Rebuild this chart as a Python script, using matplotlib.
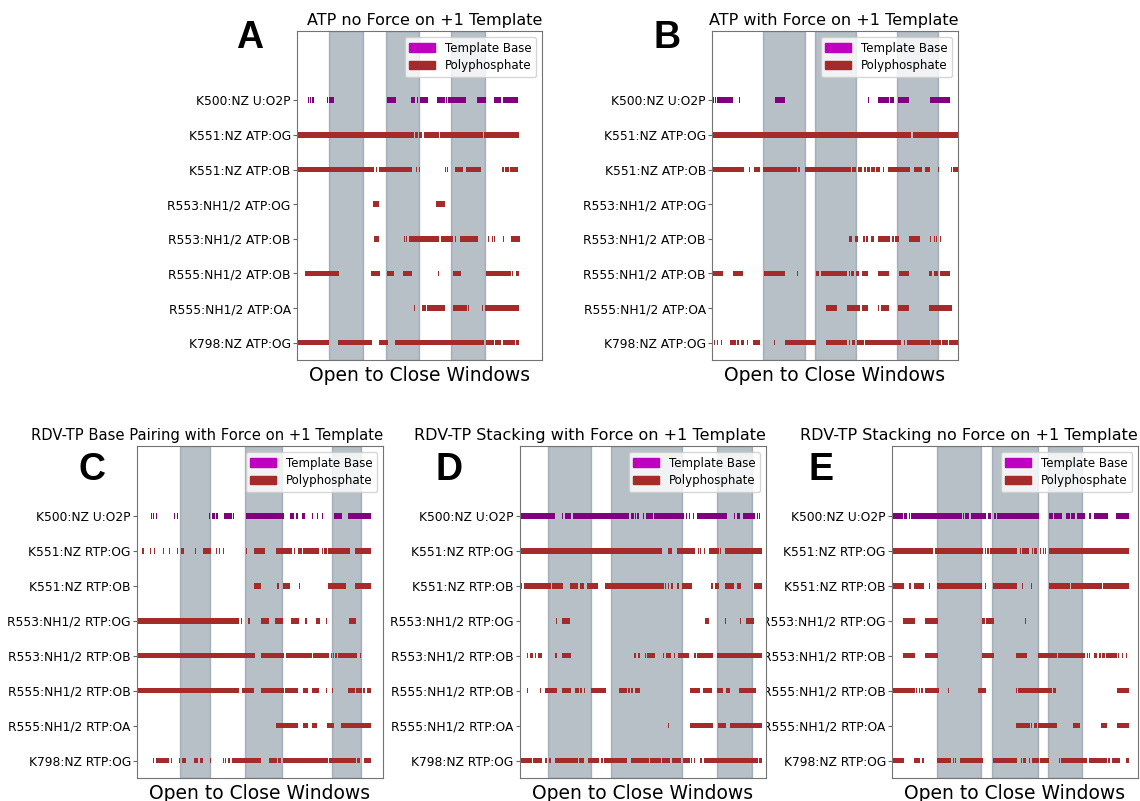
import matplotlib.pyplot as plt
from matplotlib.patches import Patch

# x values are frame positions (arbitrary units per panel)
labels_atp = ['K500:NZ U:O2P', 'K551:NZ ATP:OG', 'K551:NZ ATP:OB', 'R553:NH1/2 ATP:OG',
              'R553:NH1/2 ATP:OB', 'R555:NH1/2 ATP:OB', 'R555:NH1/2 ATP:OA', 'K798:NZ ATP:OG']
labels_rtp = ['K500:NZ U:O2P', 'K551:NZ RTP:OG', 'K551:NZ RTP:OB', 'R553:NH1/2 RTP:OG',
              'R553:NH1/2 RTP:OB', 'R555:NH1/2 RTP:OB', 'R555:NH1/2 RTP:OA', 'K798:NZ RTP:OG']

titles = ['ATP no Force on +1 Template', 'ATP with Force on +1 Template',
          'RDV-TP Base Pairing with Force on +1 Template',
          'RDV-TP Stacking with Force on +1 Template',
          'RDV-TP Stacking no Force on +1 Template']
title_sizes = [11.5, 11.5, 10.6, 11.5, 11.5]
letters = ['A', 'B', 'C', 'D', 'E']

xlims = [(6, 745), (8, 745), (6, 744), (7, 744), (8, 744)]

a_bands = [(103, 204), (276, 375), (471, 572)]
b_bands = [(161, 287), (315, 440), (561, 686)]
c_bands = [(135, 224), (330, 440), (591, 679)]
d_bands = [(91, 219), (281, 491), (596, 701)]
e_bands = [(141, 275), (308, 444), (474, 577)]

a_rows = [
    [(38, 41), (45, 48), (52, 56), (96, 99), (104, 117), (278, 304), (350, 362), (368, 371),
     (378, 402), (427, 452), (456, 460), (462, 516), (550, 577), (600, 622), (627, 674)],
    [(6, 360), (363, 372), (374, 384), (388, 433), (437, 566), (569, 620), (622, 677)],
    [(6, 238), (244, 246), (252, 354), (366, 369), (374, 378), (453, 456), (459, 462), (464, 466),
     (482, 508), (516, 560), (625, 630), (633, 645), (648, 674)],
    [(234, 254), (426, 453)],
    [(237, 254), (329, 332), (335, 338), (345, 435), (440, 478), (483, 485), (497, 552), (583, 585),
     (594, 597), (600, 603), (614, 616), (627, 629), (651, 678)],
    [(30, 132), (228, 255), (279, 300), (327, 352), (418, 420), (431, 434), (476, 501), (576, 652),
     (655, 658), (668, 677)],
    [(358, 361), (384, 395), (399, 453), (476, 518), (522, 524), (564, 567), (574, 677)],
    [(6, 104), (129, 232), (254, 280), (302, 570), (576, 600), (603, 622), (626, 664), (667, 677)],
]

b_rows = [
    [(10, 14), (17, 20), (24, 70), (90, 93), (196, 226), (387, 389), (408, 410), (475, 477),
     (480, 482), (505, 537), (540, 553), (566, 598), (662, 722)],
    [(8, 603), (611, 745)],
    [(8, 104), (120, 122), (133, 152), (160, 262), (265, 270), (287, 425), (428, 440), (444, 457),
     (462, 470), (472, 480), (483, 495), (500, 510), (520, 522), (534, 600), (614, 637), (645, 662),
     (684, 688), (724, 727), (730, 745)],
    [],
    [(393, 395), (418, 428), (436, 446), (459, 465), (470, 476), (483, 493), (505, 540), (547, 552),
     (557, 568), (597, 630), (661, 664), (672, 675), (680, 683), (690, 693)],
    [(8, 40), (70, 102), (163, 227), (262, 265), (318, 328), (333, 413), (418, 421), (425, 434),
     (438, 447), (457, 475), (506, 537), (567, 597), (659, 667), (672, 686), (690, 722)],
    [(350, 381), (411, 450), (457, 474), (504, 507), (515, 537), (566, 598), (659, 728)],
    [(14, 17), (22, 25), (34, 37), (63, 80), (83, 90), (94, 103), (114, 117), (132, 152), (195, 198),
     (226, 320), (349, 413), (418, 420), (426, 436), (442, 462), (465, 573), (583, 586), (592, 660),
     (663, 693), (697, 714), (717, 745)],
]

c_rows = [
    [(48, 50), (54, 56), (62, 65), (118, 121), (125, 128), (223, 226), (230, 240), (243, 248),
     (268, 290), (294, 297), (333, 446), (466, 478), (483, 488), (502, 510), (530, 534), (545, 548),
     (561, 564), (597, 620), (638, 708)],
    [(22, 26), (46, 49), (56, 60), (85, 87), (103, 106), (126, 129), (139, 146), (181, 184),
     (204, 227), (244, 246), (252, 256), (264, 268), (332, 335), (357, 390), (422, 470), (478, 481),
     (490, 500), (503, 553), (560, 565), (568, 575), (578, 645), (661, 708)],
    [(356, 378), (425, 432), (444, 466), (492, 494), (579, 634), (661, 708)],
    [(6, 312), (317, 320), (340, 345), (377, 401), (421, 445), (468, 491), (509, 516), (543, 554),
     (566, 568), (573, 575), (641, 664)],
    [(6, 360), (378, 446), (452, 532), (535, 582), (588, 590), (594, 598), (601, 605), (609, 665),
     (676, 678)],
    [(6, 312), (322, 357), (378, 446), (451, 490), (505, 520), (532, 553), (574, 577), (590, 593),
     (640, 660), (663, 680), (684, 690), (696, 708)],
    [(422, 490), (504, 520), (531, 547), (575, 598), (618, 708)],
    [(55, 58), (62, 103), (108, 110), (132, 136), (140, 154), (177, 190), (195, 205), (225, 228),
     (263, 266), (271, 274), (278, 284), (291, 378), (402, 425), (430, 438), (445, 580), (583, 590),
     (592, 662), (667, 676), (687, 708)],
]

d_rows = [
    [(10, 113), (133, 136), (141, 160), (165, 335), (340, 350), (352, 356), (359, 364), (375, 380),
     (386, 405), (410, 497), (503, 506), (512, 516), (525, 528), (537, 628), (648, 652), (657, 665),
     (675, 712), (718, 721), (724, 727)],
    [(10, 433), (450, 461), (477, 530), (539, 542), (547, 550), (557, 560), (572, 602), (606, 608),
     (621, 695), (697, 731)],
    [(8, 12), (18, 100), (103, 137), (156, 180), (186, 200), (207, 242), (261, 438), (442, 446),
     (452, 455), (460, 465), (478, 484), (492, 522), (580, 584), (591, 602), (622, 648), (656, 668),
     (708, 731)],
    [(115, 118), (134, 157), (562, 573), (622, 625), (665, 668), (685, 708)],
    [(28, 32), (37, 45), (52, 55), (60, 73), (113, 117), (134, 159), (350, 355), (360, 368),
     (381, 386), (389, 413), (435, 440), (446, 459), (467, 472), (479, 512), (529, 533), (537, 586),
     (598, 732)],
    [(28, 31), (68, 71), (82, 117), (134, 161), (172, 184), (188, 192), (199, 201), (220, 264),
     (304, 329), (332, 336), (340, 345), (351, 367), (516, 546), (556, 581), (596, 614), (624, 637),
     (664, 714)],
    [(450, 455), (516, 584), (600, 625), (636, 731)],
    [(10, 43), (47, 73), (83, 87), (93, 101), (112, 180), (185, 200), (212, 244), (249, 256),
     (260, 328), (340, 394), (398, 430), (434, 458), (463, 488), (495, 515), (520, 522), (528, 532),
     (545, 552), (559, 720), (724, 731)],
]

e_rows = [
    [(8, 42), (45, 53), (58, 62), (66, 216), (221, 223), (226, 238), (245, 290), (294, 305),
     (312, 318), (322, 447), (479, 490), (493, 515), (527, 540), (543, 556), (562, 585), (597, 604),
     (613, 655), (677, 718)],
    [(8, 132), (136, 281), (285, 290), (293, 299), (302, 382), (390, 393), (396, 417), (427, 429),
     (432, 441), (452, 455), (460, 462), (467, 470), (478, 718)],
    [(8, 44), (60, 66), (74, 105), (119, 122), (142, 276), (285, 290), (311, 381), (398, 401),
     (424, 428), (478, 540), (544, 636), (638, 718)],
    [(40, 77), (108, 144), (277, 286), (288, 313), (405, 408)],
    [(41, 77), (108, 144), (277, 313), (378, 413), (446, 500), (504, 584), (590, 593), (597, 600),
     (613, 622), (626, 634), (636, 646), (649, 681), (683, 688), (695, 700), (707, 712)],
    [(8, 77), (80, 84), (88, 92), (96, 100), (108, 148), (174, 177), (264, 288), (378, 383),
     (386, 488), (491, 498), (681, 718)],
    [(378, 420), (424, 428), (433, 442), (446, 500), (548, 570), (632, 650), (681, 718)],
    [(8, 43), (75, 93), (97, 104), (142, 183), (190, 193), (196, 199), (210, 279), (311, 381),
     (393, 396), (400, 410), (418, 422), (427, 447), (452, 478), (507, 510), (514, 590), (597, 650),
     (653, 660), (666, 690), (707, 718)],
]

all_rows = [a_rows, b_rows, c_rows, d_rows, e_rows]
all_bands = [a_bands, b_bands, c_bands, d_bands, e_bands]
all_labels = [labels_atp, labels_atp, labels_rtp, labels_rtp, labels_rtp]

fig = plt.figure(figsize=(11.4, 8.01), dpi=100)

positions = [
    [0.2605, 0.5506, 0.2149, 0.4107],
    [0.6246, 0.5506, 0.2158, 0.4107],
    [0.1202, 0.0287, 0.2158, 0.4145],
    [0.4561, 0.0287, 0.2158, 0.4145],
    [0.7825, 0.0287, 0.2158, 0.4145],
]
letter_pos = [(0.219, 0.952), (0.585, 0.952), (0.081, 0.413), (0.394, 0.413), (0.720, 0.413)]

template_c = '#800080'
poly_c = '#a52a2a'

axes = []
for i in range(5):
    ax = fig.add_axes(positions[i])
    for b0, b1 in all_bands[i]:
        ax.axvspan(b0, b1, color='slategray', alpha=0.5, zorder=0)
    for r, segs in enumerate(all_rows[i]):
        if not segs:
            continue
        c = template_c if r == 0 else poly_c
        ax.broken_barh([(s, e - s) for s, e in segs], (r - 0.08, 0.16),
                       facecolors=c, edgecolors='none', zorder=2)
    ax.set_xlim(*xlims[i])
    ax.set_ylim(7.5, -2)
    ax.set_yticks(range(8))
    ax.set_yticklabels(all_labels[i], fontsize=8.8)
    ax.tick_params(axis='y', length=3, pad=1.5, color='0.4')
    ax.set_xticks([])
    ax.set_title(titles[i], fontsize=title_sizes[i], pad=4, loc='right')
    ax.set_xlabel('Open to Close Windows', fontsize=13.5, labelpad=4)
    for sp in ax.spines.values():
        sp.set_color('0.45')
    handles = [Patch(color='m', label='Template Base'), Patch(color=poly_c, label='Polyphosphate')]
    ax.legend(handles=handles, loc='upper right', fontsize=8.5, handlelength=2.2, labelspacing=0.4)
    fig.text(letter_pos[i][0], letter_pos[i][1], letters[i], fontsize=27, fontweight='bold',
             family=['Liberation Sans', 'DejaVu Sans'], ha='center', va='center')
    axes.append(ax)

axes[3].set_zorder(2)

fig.savefig('out.png', dpi=100)
